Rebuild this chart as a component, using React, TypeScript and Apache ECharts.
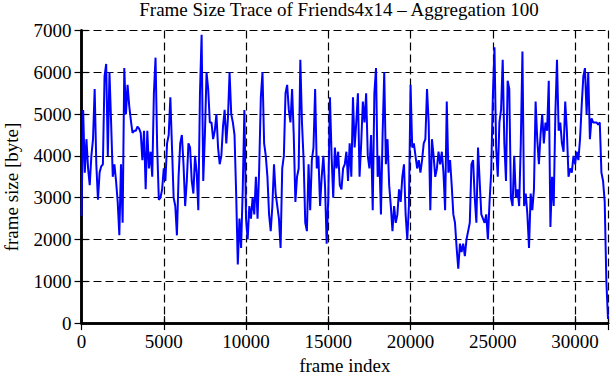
import React, { useEffect, useRef } from "react";
import * as echarts from "echarts";

const AGG = 100;
const TITLE = "Frame Size Trace of Friends4x14 \u2013 Aggregation 100";
const X_NAME = "frame index";
const Y_NAME = "frame size [byte]";
const X_TICKS = [0, 5000, 10000, 15000, 20000, 25000, 30000];
const Y_TICKS = [0, 1000, 2000, 3000, 4000, 5000, 6000, 7000];

// frame size averaged over 100 frames, frames 0..5200
const seg1 = [2560, 5100, 3600, 4400, 3700, 3300, 4000, 4400, 5600, 3800, 2950, 3600, 3750, 3800, 5900, 6200, 4000, 6000, 4800, 3500, 3800, 3400, 2900, 2100, 3800, 2400, 6100, 5000, 5700, 5200, 4850, 4550, 4600, 4600, 4700, 4650, 4550, 3900, 4600, 3200, 4600, 3700, 4100, 3500, 5500, 6350, 4200, 2950, 3000, 3200, 3700, 3400, 4300];
// frames 5300..10400
const seg2 = [4500, 5400, 4200, 3000, 2800, 2100, 3500, 4300, 4500, 3800, 2800, 3400, 4300, 4200, 3400, 3100, 4000, 3600, 2700, 5500, 6900, 3400, 4500, 6000, 5600, 4800, 4800, 4400, 4600, 5000, 4200, 3800, 4000, 4700, 5100, 4300, 4900, 6000, 5000, 4800, 4500, 3100, 1400, 2500, 1800, 3200, 5100, 2500, 2000, 2800, 2500, 3000];
// frames 10500..15700
const seg3 = [2600, 3500, 2500, 3700, 5400, 6000, 4300, 4000, 3500, 2600, 2200, 2800, 3800, 3100, 2800, 2500, 1800, 3700, 4000, 5500, 5700, 5100, 4800, 5600, 4500, 2900, 3500, 3700, 6300, 4800, 3900, 2400, 2200, 3800, 2700, 3900, 4200, 5600, 3700, 4000, 2800, 3500, 4000, 3300, 1900, 3000, 5400, 4000, 3000, 4200, 3700, 4100, 3300];
// frames 15800..21000
const seg4 = [3200, 3700, 3800, 4100, 3400, 4300, 3500, 5400, 4200, 4800, 5500, 3500, 4300, 5300, 4800, 5500, 4000, 3700, 4500, 2700, 5500, 6100, 3500, 4000, 2600, 4500, 6000, 3800, 4400, 3300, 2800, 2200, 2800, 2400, 2600, 3200, 2900, 3500, 3800, 2600, 2000, 2800, 5700, 4200, 4300, 4000, 3700, 3900, 3600, 3900, 4300, 4400, 5600];
// frames 21100..26200
const seg5 = [4800, 2700, 4400, 4000, 3500, 3700, 4100, 3800, 4100, 3600, 2700, 5300, 3600, 3900, 3300, 2600, 2400, 1800, 1300, 1900, 1700, 1900, 1600, 2000, 2200, 2400, 3800, 3900, 3000, 2400, 4200, 3400, 2600, 2500, 2400, 2600, 2000, 2900, 3600, 5400, 6600, 4200, 3500, 4800, 5100, 6300, 4300, 3400, 5800, 5600, 3000, 2800];
// frames 26300..32000
const seg6 = [4000, 3000, 3200, 2800, 4300, 6500, 2800, 3100, 2600, 1800, 3100, 2700, 3200, 5300, 4400, 3800, 4500, 5000, 4300, 4800, 4600, 5800, 2300, 3500, 2800, 5000, 6300, 4600, 4800, 4300, 4100, 5300, 4600, 3500, 3700, 3600, 4000, 3800, 4100, 3900, 4400, 5200, 5900, 6100, 5000, 6000, 4400, 4900, 4800, 4800, 4800, 4750, 4800, 3600, 3400, 2900, 1000, 100];

const frameSizes = [...seg1, ...seg2, ...seg3, ...seg4, ...seg5, ...seg6];
const frameIndex = frameSizes.map((_, i) => i * AGG);

const FONT = "Liberation Serif";

export default function App() {
  const ref = useRef<HTMLDivElement>(null);
  useEffect(() => {
    if (!ref.current) return;
    const chart = echarts.init(ref.current, undefined, { renderer: "svg" });
    const xMax = frameIndex[frameIndex.length - 1];
    const textStyle = { fontFamily: FONT, fontSize: 19, color: "#000" };
    const axisLineStyle = { color: "#000", width: 2.5 };
    const tickStyle = { color: "#000", width: 1.2 };
    chart.setOption({
      animation: false,
      backgroundColor: "#fff",
      title: {
        text: TITLE,
        left: 339,
        top: 0,
        textAlign: "center",
        padding: 0,
        textStyle: { ...textStyle, fontWeight: "normal" },
      },
      grid: { left: 81.5, right: 2, top: 30.5, bottom: 50.5, containLabel: false },
      graphic: [
        {
          type: "text",
          x: 11,
          y: 187,
          rotation: Math.PI / 2,
          style: {
            text: Y_NAME,
            fontFamily: FONT,
            fontSize: 19,
            fill: "#000",
            textAlign: "center",
            textVerticalAlign: "middle",
          },
        },
      ],
      xAxis: [
        {
          type: "value",
          min: 0,
          max: xMax,
          interval: 5000,
          position: "bottom",
          name: X_NAME,
          nameLocation: "middle",
          nameGap: 31,
          nameTextStyle: textStyle,
          axisLine: { show: true, lineStyle: axisLineStyle },
          axisTick: { show: true, inside: true, length: 7, lineStyle: tickStyle },
          axisLabel: {
            ...textStyle,
            margin: 9,
            formatter: (v: number) => (X_TICKS.includes(v) ? String(v) : ""),
          },
          splitLine: { show: true, lineStyle: { color: "#000", type: [8, 4], width: 1.2 } },
        },
        {
          type: "value",
          min: 0,
          max: xMax,
          interval: 5000,
          position: "top",
          axisLine: { show: true, lineStyle: axisLineStyle },
          axisTick: { show: true, inside: true, length: 7, lineStyle: tickStyle },
          axisLabel: { show: false },
          splitLine: { show: false },
        },
      ],
      yAxis: [
        {
          type: "value",
          min: 0,
          max: 7000,
          interval: 1000,
          position: "left",
          axisLine: { show: true, lineStyle: axisLineStyle },
          axisTick: { show: true, inside: true, length: 7, lineStyle: tickStyle },
          axisLabel: {
            ...textStyle,
            margin: 10,
            formatter: (v: number) => (Y_TICKS.includes(v) ? String(v) : ""),
          },
          splitLine: { show: true, lineStyle: { color: "#000", type: [8, 4], width: 1.2 } },
        },
        {
          type: "value",
          min: 0,
          max: 7000,
          interval: 1000,
          position: "right",
          axisLine: { show: true, lineStyle: axisLineStyle },
          axisTick: { show: true, inside: true, length: 7, lineStyle: tickStyle },
          axisLabel: { show: false },
          splitLine: { show: false },
        },
      ],
      series: [
        {
          type: "line",
          xAxisIndex: 0,
          yAxisIndex: 0,
          data: frameIndex.map((x, i) => [x, frameSizes[i]]),
          showSymbol: false,
          symbol: "none",
          lineStyle: { color: "#0000ff", width: 2 },
          z: 3,
        },
      ],
    });
    return () => chart.dispose();
  }, []);
  return <div ref={ref} style={{ width: 611, height: 380, position: "absolute", left: 0, top: 0 }} />;
}
